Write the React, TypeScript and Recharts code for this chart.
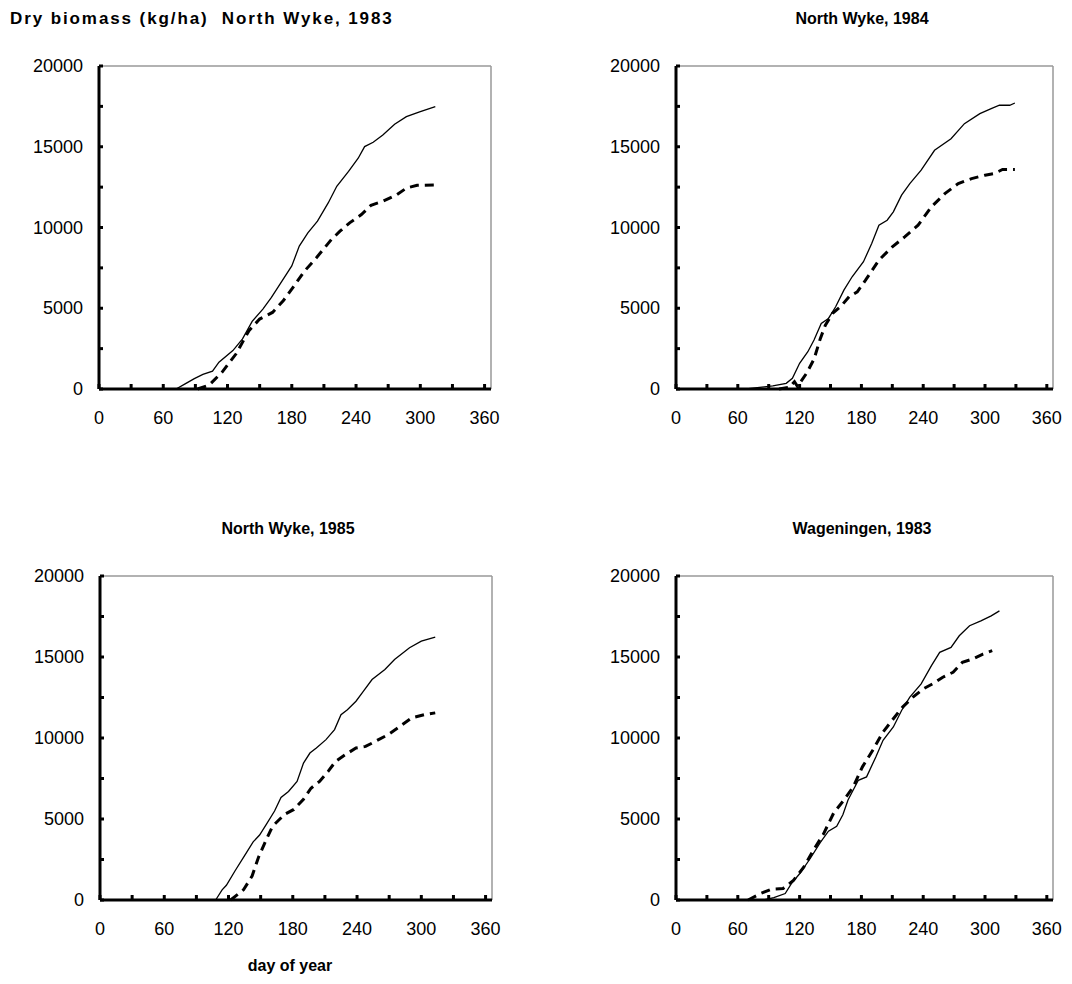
import { LineChart, Line, XAxis, YAxis, ReferenceLine } from 'recharts';

// North Wyke 1983
const nw83SolidDay = [72, 80, 89, 97, 106, 112, 125, 134, 143, 153, 161, 169, 180, 187, 195, 204, 214, 222, 233, 242, 248, 256, 265, 276, 287, 300, 314];
const nw83SolidKg = [0, 300, 640, 900, 1100, 1660, 2380, 3100, 4190, 4950, 5670, 6490, 7620, 8850, 9670, 10390, 11520, 12550, 13470, 14290, 15010, 15280, 15730, 16390, 16860, 17170, 17480];
const nw83DashDay = [92, 103, 115, 128, 140, 150, 162, 172, 181, 192, 203, 217, 225, 234, 245, 254, 265, 278, 287, 297, 314];
const nw83DashKg = [0, 250, 1050, 2180, 3610, 4330, 4740, 5460, 6280, 7310, 8130, 9260, 9770, 10290, 10800, 11380, 11620, 12030, 12440, 12610, 12640];

// North Wyke 1984
const nw84SolidDay = [68, 94, 107, 113, 120, 128, 134, 141, 148, 155, 163, 171, 182, 190, 197, 205, 211, 219, 227, 238, 251, 267, 280, 295, 306, 314, 324, 329];
const nw84SolidKg = [0, 190, 350, 660, 1590, 2310, 3030, 4060, 4370, 5090, 6120, 6950, 7880, 9010, 10140, 10450, 10970, 12000, 12720, 13550, 14780, 15500, 16430, 17050, 17360, 17570, 17570, 17710];
const nw84DashDay = [100, 110, 115, 118, 127, 134, 140, 145, 152, 160, 168, 176, 184, 197, 210, 222, 235, 248, 261, 274, 287, 300, 309, 317, 329];
const nw84DashKg = [0, 100, 450, 150, 1000, 1850, 3100, 3950, 4690, 5110, 5710, 6020, 6740, 7980, 8800, 9420, 10140, 11280, 12100, 12720, 13030, 13240, 13340, 13590, 13590];

// North Wyke 1985
const nw85SolidDay = [108, 114, 118, 126, 135, 143, 149, 155, 163, 169, 176, 184, 190, 196, 202, 211, 219, 225, 231, 239, 246, 254, 266, 275, 289, 300, 313];
const nw85SolidKg = [0, 630, 910, 1790, 2740, 3590, 4010, 4640, 5490, 6330, 6700, 7320, 8450, 9070, 9380, 9900, 10520, 11440, 11750, 12270, 12890, 13610, 14230, 14850, 15570, 15980, 16230];
const nw85DashDay = [122, 134, 142, 148, 155, 161, 172, 181, 190, 197, 205, 213, 220, 229, 239, 248, 257, 269, 278, 291, 303, 313];
const nw85DashKg = [0, 630, 1480, 2640, 3690, 4540, 5270, 5590, 6220, 6900, 7320, 7940, 8560, 8970, 9380, 9480, 9790, 10210, 10620, 11240, 11440, 11550];

// Wageningen 1983
const wa83SolidDay = [85, 95, 106, 112, 120, 130, 140, 148, 156, 162, 167, 177, 185, 194, 201, 211, 219, 227, 238, 248, 256, 267, 275, 285, 296, 306, 314];
const wa83SolidKg = [0, 140, 400, 1010, 1620, 2530, 3540, 4250, 4550, 5260, 6170, 7390, 7600, 8830, 9860, 10680, 11700, 12520, 13340, 14470, 15290, 15590, 16310, 16930, 17230, 17540, 17850];
const wa83DashDay = [70, 82, 93, 104, 114, 124, 133, 143, 153, 163, 172, 181, 191, 201, 211, 220, 230, 240, 249, 259, 269, 278, 288, 298, 307];
const wa83DashKg = [0, 400, 670, 710, 1210, 2020, 3040, 4050, 5360, 6170, 6980, 8220, 9240, 10370, 11190, 11910, 12520, 13030, 13340, 13750, 14060, 14670, 14880, 15180, 15390];

const dayTicks = [0, 30, 60, 90, 120, 150, 180, 210, 240, 270, 300, 330, 360];
const kgTicks = [0, 2500, 5000, 7500, 10000, 12500, 15000, 17500, 20000];

const pts = (days: number[], kg: number[]) => days.map((d, i) => ({ day: d, kg: kg[i] }));

const FONT = '"Liberation Sans", Arial, sans-serif';

const XTick = (props: any) => {
  const { x, y, payload } = props;
  const v = payload.value;
  return (
    <g>
      <line x1={x} x2={x} y1={y} y2={y - 5} stroke="#000" strokeWidth={3} />
      {v % 60 === 0 && (
        <text x={x} y={y + 35} textAnchor="middle" fontSize={18} fontFamily={FONT} fill="#000">
          {v}
        </text>
      )}
    </g>
  );
};

const YTick = (props: any) => {
  const { x, y, payload } = props;
  const v = payload.value;
  return (
    <g>
      <line x1={x} x2={x + 4} y1={y} y2={y} stroke="#000" strokeWidth={3} />
      {v % 5000 === 0 && (
        <text x={x - 16} y={y + 6} textAnchor="end" fontSize={18} fontFamily={FONT} fill="#000">
          {v}
        </text>
      )}
    </g>
  );
};

type PanelProps = {
  left: number;
  top: number;
  plotW: number;
  plotH: number;
  solid: { day: number; kg: number }[];
  dashed: { day: number; kg: number }[];
};

function Panel({ left, top, plotW, plotH, solid, dashed }: PanelProps) {
  const yw = 90;
  return (
    <div style={{ position: 'absolute', left: left - yw, top: top - 10 }}>
      <LineChart width={yw + plotW + 10} height={plotH + 60} margin={{ top: 10, right: 10, bottom: 0, left: 0 }}>
        <XAxis
          type="number"
          dataKey="day"
          domain={[0, 366]}
          ticks={dayTicks}
          interval={0}
          tick={<XTick />}
          tickLine={false}
          tickSize={0}
          tickMargin={0}
          height={50}
          axisLine={{ stroke: '#000', strokeWidth: 3 }}
          allowDuplicatedCategory={false}
        />
        <YAxis
          type="number"
          dataKey="kg"
          domain={[0, 20000]}
          ticks={kgTicks}
          interval={0}
          tick={<YTick />}
          tickLine={false}
          tickSize={0}
          tickMargin={0}
          width={yw}
          axisLine={{ stroke: '#000', strokeWidth: 3 }}
        />
        <ReferenceLine y={20000} stroke="#999" strokeWidth={1.5} />
        <ReferenceLine x={366} stroke="#999" strokeWidth={1.5} />
        <Line data={solid} dataKey="kg" type="linear" stroke="#000" strokeWidth={1.3} dot={false} isAnimationActive={false} />
        <Line data={dashed} dataKey="kg" type="linear" stroke="#000" strokeWidth={3} strokeDasharray="9 6" dot={false} isAnimationActive={false} />
      </LineChart>
    </div>
  );
}

const titleStyle: React.CSSProperties = {
  position: 'absolute',
  fontFamily: FONT,
  fontWeight: 'bold',
  fontSize: 16,
  whiteSpace: 'nowrap',
  lineHeight: '20px',
};

export default function App() {
  return (
    <div style={{ position: 'absolute', left: 0, top: 0, width: 1072, height: 984, background: '#fff', overflow: 'hidden' }}>
      <div style={{ ...titleStyle, left: 10, top: 9, fontSize: 17, letterSpacing: 1.9 }}>Dry biomass (kg/ha)&nbsp; North Wyke, 1983</div>
      <div style={{ ...titleStyle, left: 762, top: 9, width: 200, textAlign: 'center' }}>North Wyke, 1984</div>
      <div style={{ ...titleStyle, left: 188, top: 519, width: 200, textAlign: 'center' }}>North Wyke, 1985</div>
      <div style={{ ...titleStyle, left: 762, top: 519, width: 200, textAlign: 'center' }}>Wageningen, 1983</div>
      <div style={{ ...titleStyle, left: 190, top: 956, width: 200, textAlign: 'center' }}>day of year</div>

      <Panel left={99} top={66} plotW={392} plotH={323} solid={pts(nw83SolidDay, nw83SolidKg)} dashed={pts(nw83DashDay, nw83DashKg)} />
      <Panel left={676} top={66} plotW={377} plotH={323} solid={pts(nw84SolidDay, nw84SolidKg)} dashed={pts(nw84DashDay, nw84DashKg)} />
      <Panel left={100} top={576} plotW={392} plotH={324} solid={pts(nw85SolidDay, nw85SolidKg)} dashed={pts(nw85DashDay, nw85DashKg)} />
      <Panel left={676} top={576} plotW={377} plotH={324} solid={pts(wa83SolidDay, wa83SolidKg)} dashed={pts(wa83DashDay, wa83DashKg)} />
    </div>
  );
}
